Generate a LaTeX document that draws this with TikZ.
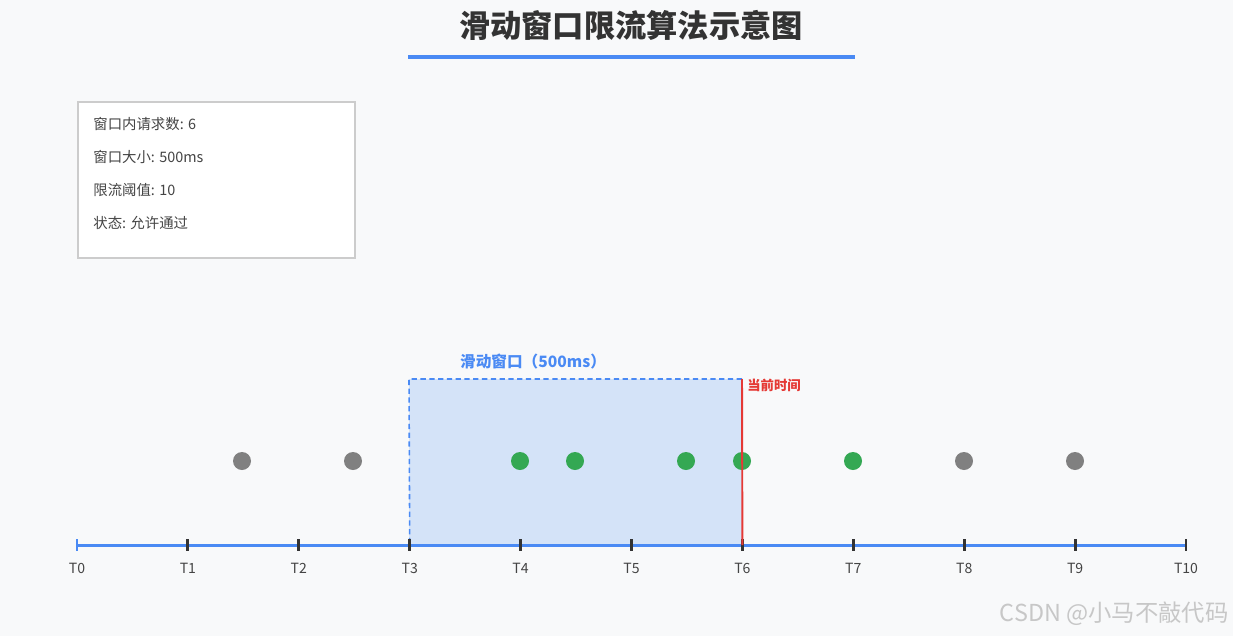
\documentclass[tikz,border=0pt]{standalone}
\usepackage{fontspec}
\setmainfont{Noto Sans CJK SC}
\definecolor{bgcol}{HTML}{F8F9FA}
\definecolor{axisblue}{HTML}{4A8AF4}
\definecolor{tickdark}{HTML}{333333}
\definecolor{winfill}{HTML}{D4E3F8}
\definecolor{dotgray}{HTML}{808080}
\definecolor{dotgreen}{HTML}{34A853}
\definecolor{nowred}{HTML}{E53935}
\definecolor{boxtext}{HTML}{444444}
\definecolor{boxedge}{HTML}{CCCCCC}
\tikzset{
  titletext/.style={font=\fontsize{17.8}{21}\selectfont\bfseries, text=tickdark},
  titlerule/.style={line width=1.9pt, draw=axisblue},
  infobox/.style={fill=white, draw=boxedge, line width=1.1pt, minimum width=5.54cm, minimum height=3.12cm, inner sep=0pt},
  infoline/.style={font=\fontsize{8.2}{10}\selectfont, text=boxtext, anchor=west, inner sep=0pt},
  winarea/.style={fill=winfill},
  winedge/.style={draw=axisblue, line width=0.9pt, dash pattern=on 3pt off 2pt},
  winlabel/.style={font=\fontsize{8.9}{10}\selectfont\bfseries, text=axisblue},
  axisline/.style={line width=1.7pt, draw=axisblue},
  tickmark/.style={line width=1.6pt, draw=tickdark},
  ticklabel/.style={font=\fontsize{8}{10}\selectfont, text=boxtext, below=0.24cm},
  req/.style={circle, minimum size=0.36cm, inner sep=0pt, draw=none},
  nowline/.style={line width=1.1pt, draw=nowred},
  nowlabel/.style={font=\fontsize{7.6}{9}\selectfont\bfseries, text=nowred, anchor=west, inner sep=0pt},
  mark text/.style={font=\fontsize{13.3}{15}\selectfont, text=black!22, anchor=east, inner sep=0pt},
}
\begin{document}
\begin{tikzpicture}[x=0.02cm, y=-0.02cm]
\useasboundingbox[fill=bgcol] (0,0) rectangle (1233,636);
% title
\node[titletext] (title) at (631,25) {滑动窗口限流算法示意图};
\draw[titlerule] (408,57) -- (855,57);
% info panel
\node[infobox, anchor=north west] (info) at (77,101) {};
\node[infoline] (count) at (93,124) {窗口内请求数: 6};
\node[infoline] (size) at (93,157) {窗口大小: 500ms};
\node[infoline] (limit) at (93,190) {限流阈值: 10};
\node[infoline] (state) at (93,223) {状态: 允许通过};
% time axis
\foreach \i in {0,...,10}
  \coordinate (t\i) at (77+110.9*\i,545);
\coordinate (wintop) at (409,379);
\coordinate (nowtop) at (742,379);
\fill[winarea] (wintop) rectangle (t6);
\draw[winedge] (nowtop) -- (wintop) -- (t3);
\node[winlabel] (wintitle) at (533,362) {滑动窗口（500ms）};
\draw[axisline] (t0) -- (t10);
\draw[tickmark, draw=axisblue] (t0) ++(0,-6) -- ++(0,12);
\foreach \i in {1,...,10}
  \draw[tickmark] (t\i) ++(0,-6) -- ++(0,12);
\foreach \i in {0,...,10}
  \node[ticklabel] (lab\i) at (t\i) {T\i};
% requests
\foreach \name/\xpos/\col in {a/242/dotgray, b/353/dotgray, c/520/dotgreen, d/575/dotgreen,
    e/686/dotgreen, f/742/dotgreen, g/853/dotgreen, h/964/dotgray, k/1075/dotgray}
  \node[req, fill=\col] (r\name) at (\xpos,461) {};
% current time
\draw[nowline] (nowtop) -- (t6);
\node[nowlabel] (nowtext) at (747,385) {当前时间};
\node[mark text] (mark) at (1229,614) {CSDN @小马不敲代码};
\end{tikzpicture}
\end{document}
